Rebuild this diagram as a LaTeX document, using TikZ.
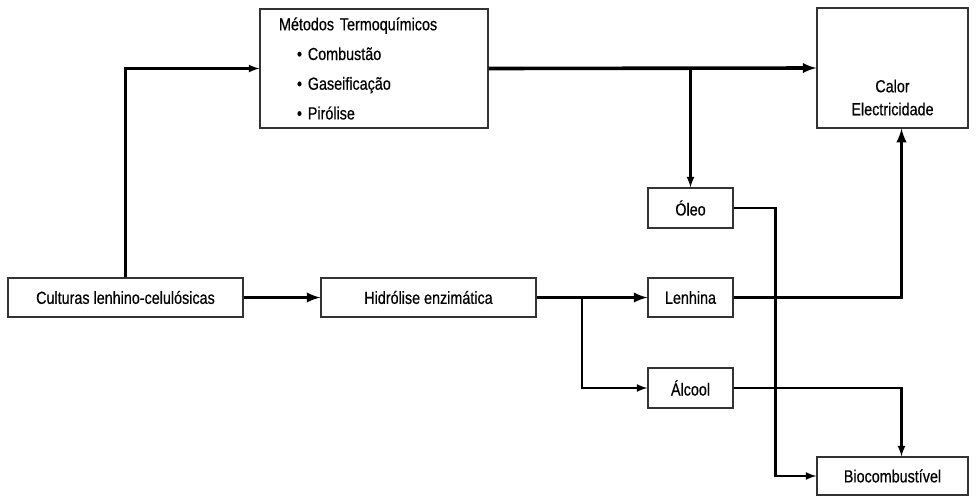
\documentclass[tikz,border=0pt]{standalone}
\usepackage{fontspec}
\setmainfont[FakeStretch=0.82, FakeBold=0.5]{Liberation Sans}
\usepackage{tikz}
\usetikzlibrary{calc, positioning}

\begin{document}
\begin{tikzpicture}[>=latex, x=1pt, y=-1pt,
    box/.style={draw=black!80, line width=1.3pt, inner sep=0pt, text=black,
      font=\fontsize{17.5}{20}\selectfont},
    thickline/.style={line width=3.6pt},
    thinline/.style={line width=2.6pt}]
  \useasboundingbox (0,0) rectangle (976,496);
  \node (cult) at (125.5,297.5) [box, minimum width=235, minimum height=39] {Culturas lenhino-celulósicas};
  \node (hidro) at (428.5,297.5) [box, minimum width=215, minimum height=39] {Hidrólise enzimática};
  \node (metodos) at (374,68.5) [box, minimum width=228, minimum height=119,
    align=left, text width=190pt, inner xsep=19pt, font=\fontsize{17.5}{29.7}\selectfont]
    {Métodos Termoquímicos\\
     \hspace*{18pt}\textbullet\ Combustão\\
     \hspace*{18pt}\textbullet\ Gaseificação\\
     \hspace*{18pt}\textbullet\ Pirólise};
  \node (calor) at (892.5,68) [box, minimum width=151, minimum height=120] {};
  \node (calortxt) at (892.5,97.5) [align=center, text=black, font=\fontsize{17.5}{23}\selectfont] {Calor\\Electricidade};
  \node (oleo) at (690.5,208) [box, minimum width=85, minimum height=40] {Óleo};
  \node (lenhina) at (690.5,297.5) [box, minimum width=85, minimum height=39] {Lenhina};
  \node (alcool) at (690.5,388) [box, minimum width=85, minimum height=40] {Álcool};
  \node (biocomb) at (892.5,476) [box, minimum width=151, minimum height=38] {Biocombustível};
  \coordinate (split) at (582,297.5);

  \draw [thinline, ->] (cult.north) |- (metodos.west);
  \draw [thickline, ->] (metodos.east) -- (calor.west);
  \draw [thinline, ->] (oleo.north |- metodos.east) -- (oleo.north);
  \draw [thickline, ->] (cult.east) -- (hidro.west);
  \draw [thickline, ->] (hidro.east) -- (lenhina.west);
  \draw [thinline, ->] (split) |- (alcool.west);
  \draw [thickline, ->] (lenhina.east) -| ([xshift=9pt]calor.south);
  \draw [thinline, ->] (alcool.east) -| ([xshift=9pt]biocomb.north);
  \draw [thinline, ->] (oleo.east) -- ++(42,0) |- (biocomb.west);
\end{tikzpicture}
\end{document}
